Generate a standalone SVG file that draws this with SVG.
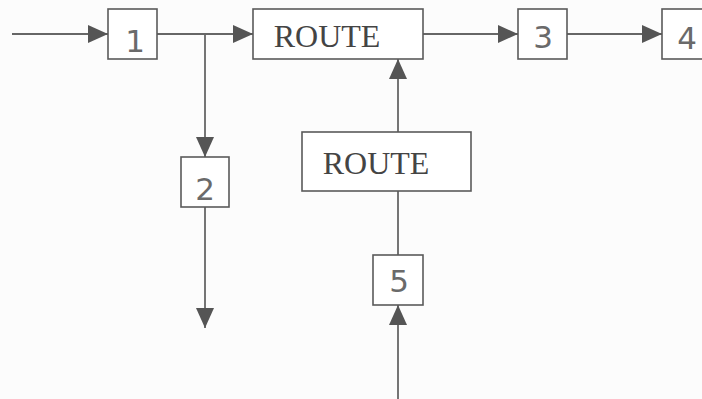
<svg xmlns="http://www.w3.org/2000/svg" width="702" height="399" viewBox="0 0 702 399">
  <style>
    .box { fill: #ffffff; stroke: #5a5a5a; stroke-width: 1.6; }
    .wire { fill: none; stroke: #666666; stroke-width: 1.8; }
    .num { font-family: "DejaVu Sans", "Liberation Sans", sans-serif; font-size: 31px; fill: #6a6a6a; text-anchor: middle; }
    .word { font-family: "Liberation Serif", "Times New Roman", serif; font-size: 32px; fill: #444444; text-anchor: middle; }
  </style>
  <defs>
    <marker id="tip" viewBox="0 0 20 18" refX="20" refY="9" markerWidth="20" markerHeight="18" markerUnits="userSpaceOnUse" orient="auto">
      <path d="M0,0 L20,9 L0,18 Z" fill="#555555"/>
    </marker>
  </defs>
  <rect width="702" height="399" fill="#fcfcfc"/>

  <g id="connectors">
    <path class="wire" d="M12,34 H108" marker-end="url(#tip)"/>
    <path class="wire" d="M157,34 H253" marker-end="url(#tip)"/>
    <path class="wire" d="M205,34 V157" marker-end="url(#tip)"/>
    <path class="wire" d="M205,207 V328" marker-end="url(#tip)"/>
    <path class="wire" d="M423,34 H518" marker-end="url(#tip)"/>
    <path class="wire" d="M567,34 H662" marker-end="url(#tip)"/>
    <path class="wire" d="M398,132 V59" marker-end="url(#tip)"/>
    <path class="wire" d="M398,191 V255"/>
    <path class="wire" d="M398,399 V305" marker-end="url(#tip)"/>
  </g>

  <g id="n1">
    <rect class="box" x="108" y="9" width="49" height="50"/>
    <text class="num" x="135" y="52">1</text>
  </g>
  <g id="route-top">
    <rect class="box" x="253" y="9" width="170" height="50"/>
    <text class="word" x="327" y="47">ROUTE</text>
  </g>
  <g id="n3">
    <rect class="box" x="518" y="9" width="49" height="50"/>
    <text class="num" x="543" y="48">3</text>
  </g>
  <g id="n4">
    <rect class="box" x="662" y="9" width="49" height="50"/>
    <text class="num" x="687" y="49">4</text>
  </g>
  <g id="n2">
    <rect class="box" x="181" y="157" width="48" height="50"/>
    <text class="num" x="205" y="200">2</text>
  </g>
  <g id="route-mid">
    <rect class="box" x="302" y="132" width="169" height="59"/>
    <text class="word" x="376" y="174">ROUTE</text>
  </g>
  <g id="n5">
    <rect class="box" x="373" y="255" width="50" height="50"/>
    <text class="num" x="399" y="292">5</text>
  </g>
</svg>
